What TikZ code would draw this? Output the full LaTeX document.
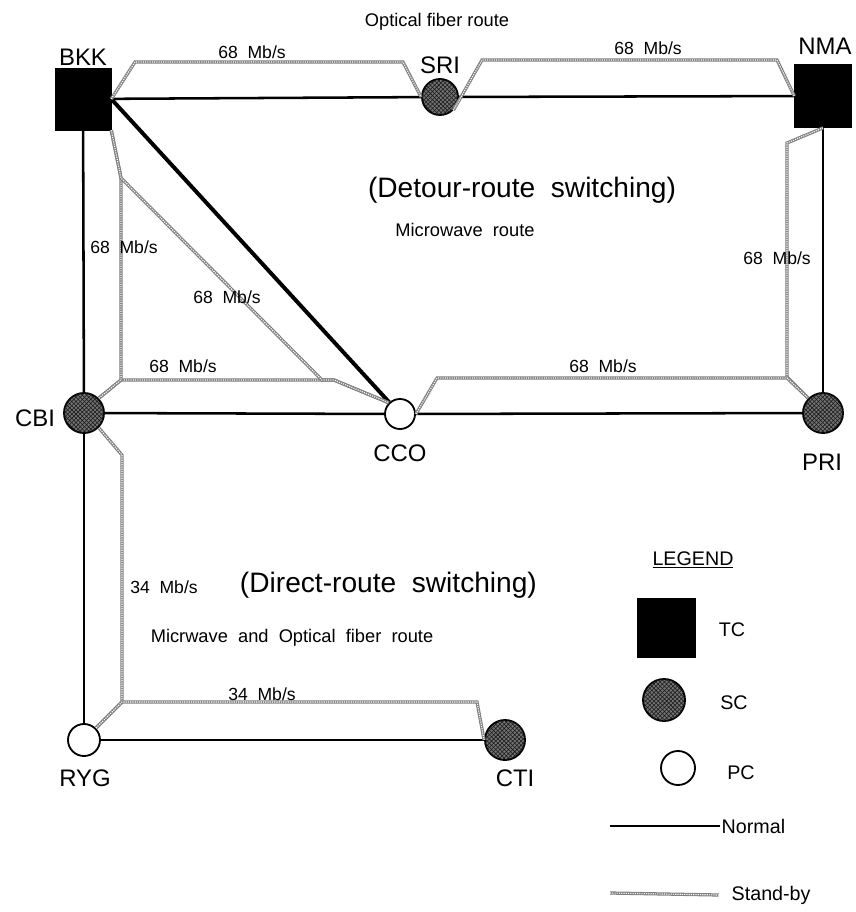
\documentclass[tikz,border=0pt]{standalone}
\usepackage{fontspec}
\setmainfont{Liberation Sans}
\usetikzlibrary{patterns}

\begin{document}
\begin{tikzpicture}[
  x=0.025cm, y=-0.025cm,
  tc/.style={draw, fill=black, inner sep=0pt, minimum width=1.4cm, minimum height=1.55cm},
  sc/.style={circle, draw, line width=1.3pt, fill=black!55, inner sep=0pt, minimum size=1cm,
    postaction={pattern=crosshatch, pattern color=black!90}},
  pc/.style={circle, draw, line width=1.3pt, fill=white, inner sep=0pt, minimum size=0.75cm},
  normal/.style={line width=1.8pt},
  trunk/.style={line width=2.8pt},
  standby/.style={draw=black!50, line width=2.3pt,
    postaction={draw=white, line width=0.8pt, dash pattern=on 0.8pt off 0.8pt}},
  rate/.style={font=\fontsize{12.5}{14}\selectfont},
  stn/.style={font=\fontsize{17}{19}\selectfont},
  route/.style={font=\fontsize{13}{15}\selectfont},
  mode/.style={font=\fontsize{20}{22}\selectfont},
  key/.style={font=\fontsize{14}{16}\selectfont}
]
\useasboundingbox (0,0) rectangle (855,912);

\node[tc] (bkk) at (83,99) {};
\node[sc, minimum size=0.9cm] (sri) at (440,97) {};
\node[tc, minimum width=1.42cm, minimum height=1.58cm] (nma) at (823,96) {};
\node[sc] (cbi) at (84,413) {};
\node[pc] (cco) at (400,414) {};
\node[sc] (pri) at (823,413) {};
\node[pc, minimum size=0.8cm] (ryg) at (84,740) {};
\node[sc] (cti) at (505,740) {};

\node[stn] (bkklbl) at (83,57) {BKK};
\node[stn] (srilbl) at (440,65) {SRI};
\node[stn] (nmalbl) at (825,46) {NMA};
\node[stn] (cbilbl) at (35,418) {CBI};
\node[stn] (ccolbl) at (400,453) {CCO};
\node[stn] (prilbl) at (822,462) {PRI};
\node[stn] (ryglbl) at (85,778) {RYG};
\node[stn] (ctilbl) at (515,778) {CTI};

\draw[normal] (bkk) -- (sri);
\draw[normal] (sri) -- (nma);
\draw[trunk] (bkk.east) -- (cco);
\draw[normal] (bkk) -- (cbi);
\draw[normal] (cbi) -- (cco);
\draw[normal] (cco) -- (pri);
\draw[normal] (nma) -- (pri);
\draw[normal] (cbi) -- (ryg);
\draw[normal] (ryg) -- (cti);

\draw[standby] (bkk.east) -- (135,62) -- (403,62) -- (sri.west);
\draw[standby] (sri.south east) -- (482,60) -- (777,60) -- (nma.west);
\draw[standby] (nma.south) -- (787,143) -- (787,377) -- (pri.north west);
\draw[standby] (cco.east) -- (437,378) -- (787,378) -- (pri.north west);
\draw[standby] (cbi.north east) -- (121,380) -- (334,380) -- (cco.north west);
\draw[standby] (cbi.north east) -- (121,380) -- (121,178) -- (bkk.south east);
\draw[standby] (bkk.south east) -- (121,178) -- (322,380) -- (334,380) -- (cco.north west);
\draw[standby] (cbi.south east) -- (122,455) -- (122,702) -- (ryg.north east);
\draw[standby] (ryg.north east) -- (122,702) -- (477,702) -- (cti.west);

\node[route] (optlbl) at (437,22) {Optical fiber route};
\node[rate] (r1) at (252,52) {68\ \ Mb/s};
\node[rate] (r2) at (648,48) {68\ \ Mb/s};
\node[mode] (detour) at (522,190) {(Detour-route\ \ switching)};
\node[route] (mwlbl) at (465,230) {Microwave\ \ route};
\node[rate] (r3) at (124,247) {68\ \ Mb/s};
\node[rate] (r4) at (227,297) {68\ \ Mb/s};
\node[rate] (r5) at (183,366) {68\ \ Mb/s};
\node[rate] (r6) at (603,366) {68\ \ Mb/s};
\node[rate] (r7) at (777,258) {68\ \ Mb/s};
\node[rate] (r8) at (164,587) {34\ \ Mb/s};
\node[mode, anchor=west] (direct) at (235,585) {(Direct-route\ \ switching)};
\node[route] (mixlbl) at (292,638) {Micrwave\ \ and\ \ Optical\ \ fiber\ \ route};
\node[rate, anchor=base] (r9) at (262,700) {34\ \ Mb/s};

\node[key] (legend) at (693,560) {\underline{LEGEND}};
\node[tc, minimum width=1.45cm, minimum height=1.47cm] (keytc) at (666,628) {};
\node[key] (tclbl) at (732,630) {TC};
\node[sc, minimum size=1.05cm] (keysc) at (664,700) {};
\node[key] (sclbl) at (734,703) {SC};
\node[pc, minimum size=0.85cm] (keypc) at (678,768) {};
\node[key] (pclbl) at (741,773) {PC};
\coordinate (norm0) at (610,826);
\node[key, anchor=west, inner sep=1pt] (normlbl) at (720,826) {Normal};
\draw[normal] (norm0) -- (normlbl.west);
\coordinate (stby0) at (610,893);
\node[key, anchor=west, inner sep=1pt] (stbylbl) at (730,895) {Stand-by};
\draw[standby] (stby0) -- ([xshift=-8pt]stbylbl.west);
\end{tikzpicture}
\end{document}
